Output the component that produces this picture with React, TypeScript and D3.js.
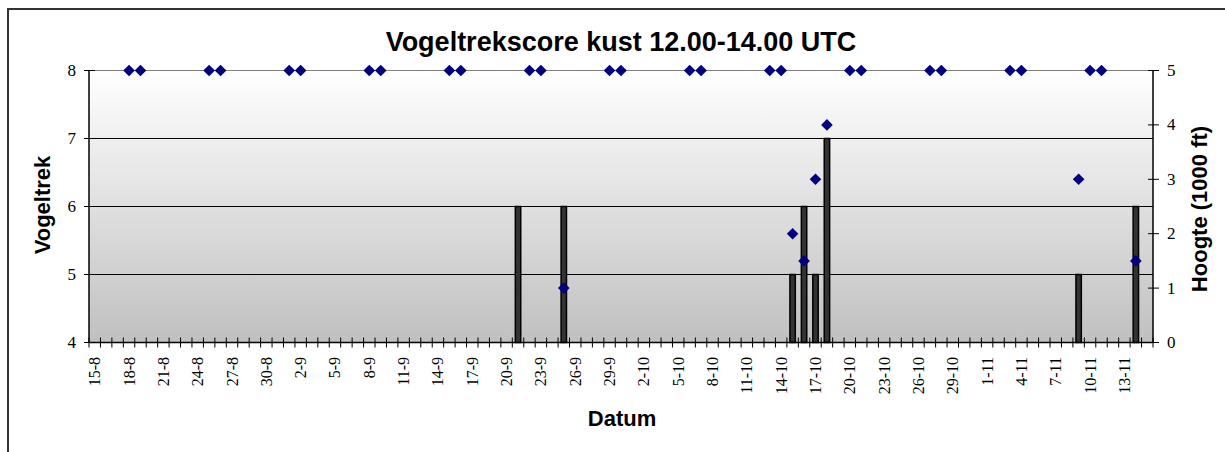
import React from 'react';
import * as d3 from 'd3';

// categories: every day from 15-8 to 15-11
const fmt = d3.timeFormat('%-d-%-m');
const days: string[] = d3.timeDay
  .range(new Date(2007, 7, 15), new Date(2007, 10, 16))
  .map(d => fmt(d));

// Vogeltrek (left axis, bars)
const trekDates = ['21-9', '25-9', '15-10', '16-10', '17-10', '18-10', '9-11', '14-11'];
const trekValues = [6, 6, 5, 6, 5, 7, 5, 6];

// Hoogte in 1000 ft (right axis, diamonds)
const hoogteDates = [
  '18-8', '19-8', '25-8', '26-8', '1-9', '2-9', '8-9', '9-9', '15-9', '16-9',
  '22-9', '23-9', '25-9', '29-9', '30-9', '6-10', '7-10', '13-10', '14-10', '15-10',
  '16-10', '17-10', '18-10', '20-10', '21-10', '27-10', '28-10', '3-11', '4-11', '9-11',
  '10-11', '11-11', '14-11',
];
const hoogteValues = [
  5, 5, 5, 5, 5, 5, 5, 5, 5, 5,
  5, 5, 1, 5, 5, 5, 5, 5, 5, 2,
  1.5, 3, 4, 5, 5, 5, 5, 5, 5, 3,
  5, 5, 1.5,
];

const leftTicks = [4, 5, 6, 7, 8];
const rightTicks = [0, 1, 2, 3, 4, 5];

const W = 1225;
const H = 452;
const plot = { left: 89, right: 1153, top: 70.5, bottom: 342.5 };

const serif = '"Times New Roman", "Liberation Serif", serif';
const sans = 'Arial, "Liberation Sans", sans-serif';

const App: React.FC = () => {
  const x = d3.scaleBand<string>().domain(days).range([plot.left, plot.right]).padding(0);
  const yL = d3.scaleLinear().domain([4, 8]).range([plot.bottom, plot.top]);
  const yR = d3.scaleLinear().domain([0, 5]).range([plot.bottom, plot.top]);
  const bw = x.bandwidth();
  const cx = (d: string) => (x(d) ?? 0) + bw / 2;

  const diamond = d3.symbol().type(d3.symbolDiamond2).size(86)();

  return (
    <svg width={W} height={H} style={{ position: 'absolute', left: 0, top: 0, background: '#fff' }}>
      <defs>
        <linearGradient id="plotbg" x1="0" y1="0" x2="0" y2="1">
          <stop offset="0%" stopColor="#ffffff" />
          <stop offset="100%" stopColor="#c0c0c0" />
        </linearGradient>
      </defs>

      {/* chart frame */}
      <rect x={8} y={9} width={1240} height={470} fill="#fff" stroke="#333" strokeWidth={2} />

      {/* plot area */}
      <rect x={plot.left} y={plot.top} width={plot.right - plot.left} height={plot.bottom - plot.top} fill="url(#plotbg)" />

      {/* gridlines */}
      {leftTicks.filter(t => t > 4).map(t => (
        <line key={t} x1={plot.left} x2={plot.right} y1={yL(t)} y2={yL(t)}
          stroke={t === 8 ? '#808080' : '#000'} strokeWidth={1} />
      ))}

      {/* bars */}
      {trekDates.map((d, i) => (
        <rect key={d} x={cx(d) - 2.7} y={yL(trekValues[i])} width={5.4}
          height={plot.bottom - yL(trekValues[i])} fill="#333" stroke="#000" strokeWidth={1.5} />
      ))}

      {/* axes lines */}
      <line x1={plot.left} x2={plot.left} y1={plot.top} y2={plot.bottom} stroke="#000" strokeWidth={1.5} />
      <line x1={plot.right} x2={plot.right} y1={plot.top} y2={plot.bottom} stroke="#000" strokeWidth={1.5} />
      <line x1={plot.left} x2={plot.right} y1={plot.bottom} y2={plot.bottom} stroke="#000" strokeWidth={1.5} />

      {/* x ticks */}
      {days.map(d => (
        <line key={'t' + d} x1={x(d)!} x2={x(d)!} y1={plot.bottom - 5} y2={plot.bottom + 5} stroke="#000" strokeWidth={1} />
      ))}
      <line x1={plot.right} x2={plot.right} y1={plot.bottom - 5} y2={plot.bottom + 5} stroke="#000" strokeWidth={1} />
      {days.filter((_, i) => i % 3 === 0).map(d => (
        <text key={'l' + d} transform={`translate(${cx(d)},357) rotate(-90)`} textAnchor="end"
          dominantBaseline="central" fontFamily={serif} fontSize={16} fill="#000">{d}</text>
      ))}

      {/* left axis */}
      {leftTicks.map(t => (
        <g key={'yl' + t}>
          <line x1={plot.left - 5} x2={plot.left + 6} y1={yL(t)} y2={yL(t)} stroke="#000" strokeWidth={1} />
          <text x={76} y={yL(t)} textAnchor="end" dominantBaseline="central" fontFamily={serif} fontSize={17}>{t}</text>
        </g>
      ))}

      {/* right axis */}
      {rightTicks.map(t => (
        <g key={'yr' + t}>
          <line x1={plot.right - 5} x2={plot.right + 6} y1={yR(t)} y2={yR(t)} stroke="#000" strokeWidth={1} />
          <text x={1167} y={yR(t)} textAnchor="start" dominantBaseline="central" fontFamily={serif} fontSize={17}>{t}</text>
        </g>
      ))}

      {/* diamonds */}
      {hoogteDates.map((d, i) => (
        <path key={'h' + i} d={diamond!} transform={`translate(${cx(d)},${yR(hoogteValues[i])})`} fill="#000080" />
      ))}

      {/* titles */}
      <text x={621} y={51} textAnchor="middle" fontFamily={sans} fontWeight="bold" fontSize={27}>
        Vogeltrekscore kust 12.00-14.00 UTC
      </text>
      <text transform="translate(50,205) rotate(-90)" textAnchor="middle" fontFamily={sans} fontWeight="bold" fontSize={22}>
        Vogeltrek
      </text>
      <text transform="translate(1207,209) rotate(-90)" textAnchor="middle" fontFamily={sans} fontWeight="bold" fontSize={22}>
        Hoogte (1000 ft)
      </text>
      <text x={622} y={426} textAnchor="middle" fontFamily={sans} fontWeight="bold" fontSize={22}>
        Datum
      </text>
    </svg>
  );
};

export default App;
